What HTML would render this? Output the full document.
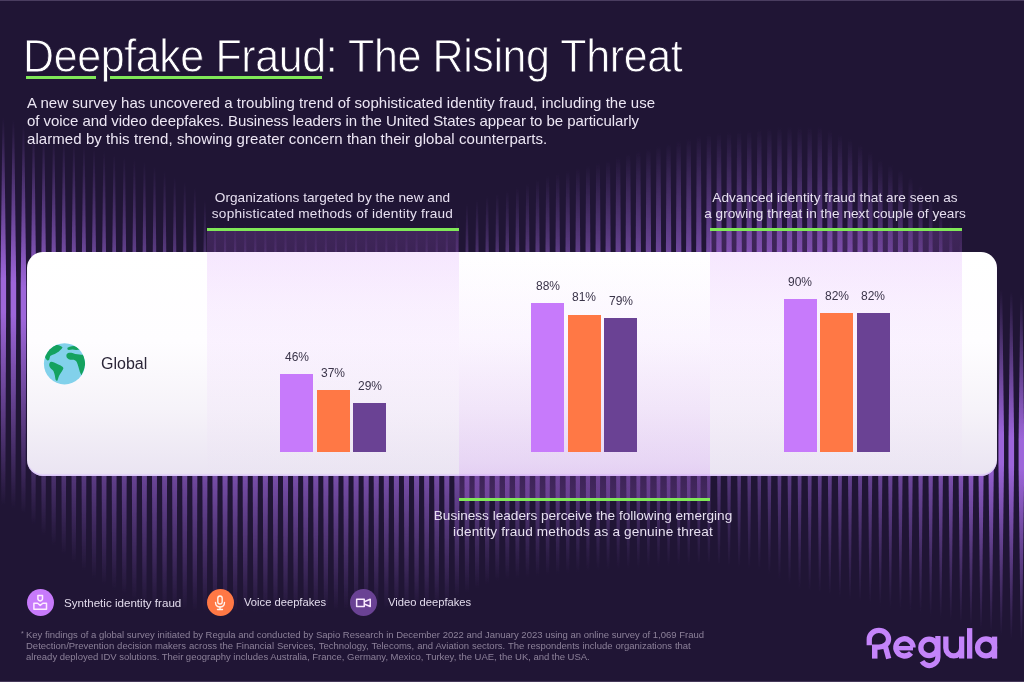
<!DOCTYPE html>
<html><head><meta charset="utf-8">
<style>
*{margin:0;padding:0;box-sizing:border-box}
html,body{width:1024px;height:682px;overflow:hidden;background:#201535}
body{position:relative;font-family:"Liberation Sans",sans-serif}
.sub,.hdr,.title,.leg,.foot,.pct,.global{will-change:transform}
.abs{position:absolute}
.stripes{position:absolute;left:0;top:0}
.topline{position:absolute;left:0;top:0;width:1024px;height:1px;background:#4a3d60}
.botline{position:absolute;left:0;top:681px;width:1024px;height:1px;background:#45385a}
.title{position:absolute;left:23px;top:36px;font-size:43px;color:#fff;white-space:nowrap;line-height:1;letter-spacing:-0.4px;-webkit-text-stroke:0.8px #201535;transform:scaleY(1.06);transform-origin:0 35.5px}
.uline{position:absolute;height:3px;background:#80e858}
.sub{position:absolute;left:27px;top:94px;font-size:15px;color:#ece6f4;line-height:17.8px;white-space:nowrap}
.hdr{position:absolute;font-size:13.6px;color:#e6dff0;line-height:16px;text-align:center;white-space:nowrap}
.card{position:absolute;left:27px;top:252px;width:970px;height:223.5px;border-radius:16px;
 background:linear-gradient(to bottom,#ffffff 0%,#fefdff 40%,#f6f3f9 70%,#eae4f2 100%);box-shadow:inset 0 -1.5px 1px rgba(205,170,255,0.55)}
.tint{position:absolute}
.tdown{background:linear-gradient(to bottom,rgba(200,110,250,0.19),rgba(200,110,250,0.10) 30%,rgba(200,110,250,0.0) 100%)}
.tup{background:linear-gradient(to top,rgba(200,110,250,0.22),rgba(200,110,250,0.14) 15%,rgba(200,110,250,0.0) 100%)}
.green{position:absolute;height:3px;background:#80e858}
.bar{position:absolute;width:33px}
.b1{background:#c77afb}.b2{background:#ff7845}.b3{background:#6a4294}
.pct{position:absolute;font-size:12px;color:#3a3449;width:40px;text-align:center;line-height:1}
.global{position:absolute;left:101px;top:356px;font-size:16px;color:#2b2638;line-height:1}
.leg{position:absolute;font-size:11.6px;color:#e2dbec;line-height:1;white-space:nowrap}
.dot{position:absolute;width:27px;height:27px;border-radius:50%}
.foot{position:absolute;left:26px;top:629px;font-size:9.5px;color:#8c8199;line-height:11.2px;white-space:nowrap}
</style></head><body>
<svg class="stripes" width="1024" height="682" viewBox="0 0 1024 682"><defs><filter id="bl" x="-5%" y="-5%" width="110%" height="110%"><feGaussianBlur stdDeviation="0.55 0"/></filter><linearGradient id="g0" gradientUnits="userSpaceOnUse" x1="0" y1="116.9" x2="0" y2="505.8"><stop offset="0" stop-color="#9d66da" stop-opacity="0"/><stop offset="0.420" stop-color="#9d66da"/><stop offset="0.500" stop-color="#9d66da"/><stop offset="1" stop-color="#9d66da" stop-opacity="0"/></linearGradient><linearGradient id="g1" gradientUnits="userSpaceOnUse" x1="0" y1="119.6" x2="0" y2="508.3"><stop offset="0" stop-color="#9d66da" stop-opacity="0"/><stop offset="0.420" stop-color="#9d66da"/><stop offset="0.500" stop-color="#9d66da"/><stop offset="1" stop-color="#9d66da" stop-opacity="0"/></linearGradient><linearGradient id="g2" gradientUnits="userSpaceOnUse" x1="0" y1="124.2" x2="0" y2="513.8"><stop offset="0" stop-color="#9d66da" stop-opacity="0"/><stop offset="0.420" stop-color="#9d66da"/><stop offset="0.500" stop-color="#9d66da"/><stop offset="1" stop-color="#9d66da" stop-opacity="0"/></linearGradient><linearGradient id="g3" gradientUnits="userSpaceOnUse" x1="0" y1="131.0" x2="0" y2="524.9"><stop offset="0" stop-color="#9d66da" stop-opacity="0"/><stop offset="0.420" stop-color="#9d66da"/><stop offset="0.500" stop-color="#9d66da"/><stop offset="1" stop-color="#9d66da" stop-opacity="0"/></linearGradient><linearGradient id="g4" gradientUnits="userSpaceOnUse" x1="0" y1="134.1" x2="0" y2="535.6"><stop offset="0" stop-color="#9d66da" stop-opacity="0"/><stop offset="0.420" stop-color="#9d66da"/><stop offset="0.500" stop-color="#9d66da"/><stop offset="1" stop-color="#9d66da" stop-opacity="0"/></linearGradient><linearGradient id="g5" gradientUnits="userSpaceOnUse" x1="0" y1="136.5" x2="0" y2="545.7"><stop offset="0" stop-color="#9d66da" stop-opacity="0"/><stop offset="0.420" stop-color="#9d66da"/><stop offset="0.500" stop-color="#9d66da"/><stop offset="1" stop-color="#9d66da" stop-opacity="0"/></linearGradient><linearGradient id="g6" gradientUnits="userSpaceOnUse" x1="0" y1="139.1" x2="0" y2="554.9"><stop offset="0" stop-color="#9d66da" stop-opacity="0"/><stop offset="0.420" stop-color="#9d66da"/><stop offset="0.500" stop-color="#9d66da"/><stop offset="1" stop-color="#9d66da" stop-opacity="0"/></linearGradient><linearGradient id="g7" gradientUnits="userSpaceOnUse" x1="0" y1="142.2" x2="0" y2="562.7"><stop offset="0" stop-color="#9d66da" stop-opacity="0"/><stop offset="0.420" stop-color="#9d66da"/><stop offset="0.500" stop-color="#9d66da"/><stop offset="1" stop-color="#9d66da" stop-opacity="0"/></linearGradient><linearGradient id="g8" gradientUnits="userSpaceOnUse" x1="0" y1="145.2" x2="0" y2="570.6"><stop offset="0" stop-color="#9d66da" stop-opacity="0"/><stop offset="0.420" stop-color="#9d66da"/><stop offset="0.500" stop-color="#9d66da"/><stop offset="1" stop-color="#9d66da" stop-opacity="0"/></linearGradient><linearGradient id="g9" gradientUnits="userSpaceOnUse" x1="0" y1="148.2" x2="0" y2="578.4"><stop offset="0" stop-color="#9d66da" stop-opacity="0"/><stop offset="0.420" stop-color="#9d66da"/><stop offset="0.500" stop-color="#9d66da"/><stop offset="1" stop-color="#9d66da" stop-opacity="0"/></linearGradient><linearGradient id="g10" gradientUnits="userSpaceOnUse" x1="0" y1="151.1" x2="0" y2="585.0"><stop offset="0" stop-color="#9d66da" stop-opacity="0"/><stop offset="0.420" stop-color="#9d66da"/><stop offset="0.500" stop-color="#9d66da"/><stop offset="1" stop-color="#9d66da" stop-opacity="0"/></linearGradient><linearGradient id="g11" gradientUnits="userSpaceOnUse" x1="0" y1="153.7" x2="0" y2="590.1"><stop offset="0" stop-color="#9d66da" stop-opacity="0"/><stop offset="0.420" stop-color="#9d66da"/><stop offset="0.500" stop-color="#9d66da"/><stop offset="1" stop-color="#9d66da" stop-opacity="0"/></linearGradient><linearGradient id="g12" gradientUnits="userSpaceOnUse" x1="0" y1="156.3" x2="0" y2="595.1"><stop offset="0" stop-color="#9d66da" stop-opacity="0"/><stop offset="0.420" stop-color="#9d66da"/><stop offset="0.500" stop-color="#9d66da"/><stop offset="1" stop-color="#9d66da" stop-opacity="0"/></linearGradient><linearGradient id="g13" gradientUnits="userSpaceOnUse" x1="0" y1="158.9" x2="0" y2="600.2"><stop offset="0" stop-color="#9d66da" stop-opacity="0"/><stop offset="0.420" stop-color="#9d66da"/><stop offset="0.500" stop-color="#9d66da"/><stop offset="1" stop-color="#9d66da" stop-opacity="0"/></linearGradient><linearGradient id="g14" gradientUnits="userSpaceOnUse" x1="0" y1="161.5" x2="0" y2="605.2"><stop offset="0" stop-color="#9d66da" stop-opacity="0"/><stop offset="0.420" stop-color="#9d66da"/><stop offset="0.500" stop-color="#9d66da"/><stop offset="1" stop-color="#9d66da" stop-opacity="0"/></linearGradient><linearGradient id="g15" gradientUnits="userSpaceOnUse" x1="0" y1="165.4" x2="0" y2="608.4"><stop offset="0" stop-color="#9d66da" stop-opacity="0"/><stop offset="0.420" stop-color="#9d66da"/><stop offset="0.500" stop-color="#9d66da"/><stop offset="1" stop-color="#9d66da" stop-opacity="0"/></linearGradient><linearGradient id="g16" gradientUnits="userSpaceOnUse" x1="0" y1="170.9" x2="0" y2="609.2"><stop offset="0" stop-color="#9d66da" stop-opacity="0"/><stop offset="0.420" stop-color="#9d66da"/><stop offset="0.500" stop-color="#9d66da"/><stop offset="1" stop-color="#9d66da" stop-opacity="0"/></linearGradient><linearGradient id="g17" gradientUnits="userSpaceOnUse" x1="0" y1="176.3" x2="0" y2="610.0"><stop offset="0" stop-color="#9d66da" stop-opacity="0"/><stop offset="0.420" stop-color="#9d66da"/><stop offset="0.500" stop-color="#9d66da"/><stop offset="1" stop-color="#9d66da" stop-opacity="0"/></linearGradient><linearGradient id="g18" gradientUnits="userSpaceOnUse" x1="0" y1="181.8" x2="0" y2="610.8"><stop offset="0" stop-color="#9d66da" stop-opacity="0"/><stop offset="0.420" stop-color="#9d66da"/><stop offset="0.500" stop-color="#9d66da"/><stop offset="1" stop-color="#9d66da" stop-opacity="0"/></linearGradient><linearGradient id="g19" gradientUnits="userSpaceOnUse" x1="0" y1="187.2" x2="0" y2="611.6"><stop offset="0" stop-color="#9d66da" stop-opacity="0"/><stop offset="0.420" stop-color="#9d66da"/><stop offset="0.500" stop-color="#9d66da"/><stop offset="1" stop-color="#9d66da" stop-opacity="0"/></linearGradient><linearGradient id="g20" gradientUnits="userSpaceOnUse" x1="0" y1="199.8" x2="0" y2="612.0"><stop offset="0" stop-color="#9d66da" stop-opacity="0"/><stop offset="0.420" stop-color="#9d66da"/><stop offset="0.500" stop-color="#9d66da"/><stop offset="1" stop-color="#9d66da" stop-opacity="0"/></linearGradient><linearGradient id="g21" gradientUnits="userSpaceOnUse" x1="0" y1="222.2" x2="0" y2="612.0"><stop offset="0" stop-color="#9d66da" stop-opacity="0"/><stop offset="0.420" stop-color="#9d66da"/><stop offset="0.500" stop-color="#9d66da"/><stop offset="1" stop-color="#9d66da" stop-opacity="0"/></linearGradient><linearGradient id="g22" gradientUnits="userSpaceOnUse" x1="0" y1="222.9" x2="0" y2="612.0"><stop offset="0" stop-color="#9d66da" stop-opacity="0"/><stop offset="0.420" stop-color="#9d66da"/><stop offset="0.500" stop-color="#9d66da"/><stop offset="1" stop-color="#9d66da" stop-opacity="0"/></linearGradient><linearGradient id="g23" gradientUnits="userSpaceOnUse" x1="0" y1="223.6" x2="0" y2="612.0"><stop offset="0" stop-color="#9d66da" stop-opacity="0"/><stop offset="0.420" stop-color="#9d66da"/><stop offset="0.500" stop-color="#9d66da"/><stop offset="1" stop-color="#9d66da" stop-opacity="0"/></linearGradient><linearGradient id="g24" gradientUnits="userSpaceOnUse" x1="0" y1="224.3" x2="0" y2="612.0"><stop offset="0" stop-color="#9d66da" stop-opacity="0"/><stop offset="0.420" stop-color="#9d66da"/><stop offset="0.500" stop-color="#9d66da"/><stop offset="1" stop-color="#9d66da" stop-opacity="0"/></linearGradient><linearGradient id="g25" gradientUnits="userSpaceOnUse" x1="0" y1="225.0" x2="0" y2="612.0"><stop offset="0" stop-color="#9d66da" stop-opacity="0"/><stop offset="0.420" stop-color="#9d66da"/><stop offset="0.500" stop-color="#9d66da"/><stop offset="1" stop-color="#9d66da" stop-opacity="0"/></linearGradient><linearGradient id="g26" gradientUnits="userSpaceOnUse" x1="0" y1="225.6" x2="0" y2="612.0"><stop offset="0" stop-color="#9d66da" stop-opacity="0"/><stop offset="0.420" stop-color="#9d66da"/><stop offset="0.500" stop-color="#9d66da"/><stop offset="1" stop-color="#9d66da" stop-opacity="0"/></linearGradient><linearGradient id="g27" gradientUnits="userSpaceOnUse" x1="0" y1="226.3" x2="0" y2="612.0"><stop offset="0" stop-color="#9d66da" stop-opacity="0"/><stop offset="0.420" stop-color="#9d66da"/><stop offset="0.500" stop-color="#9d66da"/><stop offset="1" stop-color="#9d66da" stop-opacity="0"/></linearGradient><linearGradient id="g28" gradientUnits="userSpaceOnUse" x1="0" y1="227.0" x2="0" y2="612.0"><stop offset="0" stop-color="#9d66da" stop-opacity="0"/><stop offset="0.420" stop-color="#9d66da"/><stop offset="0.500" stop-color="#9d66da"/><stop offset="1" stop-color="#9d66da" stop-opacity="0"/></linearGradient><linearGradient id="g29" gradientUnits="userSpaceOnUse" x1="0" y1="227.7" x2="0" y2="612.0"><stop offset="0" stop-color="#9d66da" stop-opacity="0"/><stop offset="0.420" stop-color="#9d66da"/><stop offset="0.500" stop-color="#9d66da"/><stop offset="1" stop-color="#9d66da" stop-opacity="0"/></linearGradient><linearGradient id="g30" gradientUnits="userSpaceOnUse" x1="0" y1="228.1" x2="0" y2="611.8"><stop offset="0" stop-color="#9d66da" stop-opacity="0"/><stop offset="0.420" stop-color="#9d66da"/><stop offset="0.500" stop-color="#9d66da"/><stop offset="1" stop-color="#9d66da" stop-opacity="0"/></linearGradient><linearGradient id="g31" gradientUnits="userSpaceOnUse" x1="0" y1="228.3" x2="0" y2="611.5"><stop offset="0" stop-color="#9d66da" stop-opacity="0"/><stop offset="0.420" stop-color="#9d66da"/><stop offset="0.500" stop-color="#9d66da"/><stop offset="1" stop-color="#9d66da" stop-opacity="0"/></linearGradient><linearGradient id="g32" gradientUnits="userSpaceOnUse" x1="0" y1="228.5" x2="0" y2="611.1"><stop offset="0" stop-color="#9d66da" stop-opacity="0"/><stop offset="0.420" stop-color="#9d66da"/><stop offset="0.500" stop-color="#9d66da"/><stop offset="1" stop-color="#9d66da" stop-opacity="0"/></linearGradient><linearGradient id="g33" gradientUnits="userSpaceOnUse" x1="0" y1="228.7" x2="0" y2="610.8"><stop offset="0" stop-color="#9d66da" stop-opacity="0"/><stop offset="0.420" stop-color="#9d66da"/><stop offset="0.500" stop-color="#9d66da"/><stop offset="1" stop-color="#9d66da" stop-opacity="0"/></linearGradient><linearGradient id="g34" gradientUnits="userSpaceOnUse" x1="0" y1="228.9" x2="0" y2="610.5"><stop offset="0" stop-color="#9d66da" stop-opacity="0"/><stop offset="0.420" stop-color="#9d66da"/><stop offset="0.500" stop-color="#9d66da"/><stop offset="1" stop-color="#9d66da" stop-opacity="0"/></linearGradient><linearGradient id="g35" gradientUnits="userSpaceOnUse" x1="0" y1="229.1" x2="0" y2="610.1"><stop offset="0" stop-color="#9d66da" stop-opacity="0"/><stop offset="0.420" stop-color="#9d66da"/><stop offset="0.500" stop-color="#9d66da"/><stop offset="1" stop-color="#9d66da" stop-opacity="0"/></linearGradient><linearGradient id="g36" gradientUnits="userSpaceOnUse" x1="0" y1="229.3" x2="0" y2="609.8"><stop offset="0" stop-color="#9d66da" stop-opacity="0"/><stop offset="0.420" stop-color="#9d66da"/><stop offset="0.500" stop-color="#9d66da"/><stop offset="1" stop-color="#9d66da" stop-opacity="0"/></linearGradient><linearGradient id="g37" gradientUnits="userSpaceOnUse" x1="0" y1="229.5" x2="0" y2="609.5"><stop offset="0" stop-color="#9d66da" stop-opacity="0"/><stop offset="0.420" stop-color="#9d66da"/><stop offset="0.500" stop-color="#9d66da"/><stop offset="1" stop-color="#9d66da" stop-opacity="0"/></linearGradient><linearGradient id="g38" gradientUnits="userSpaceOnUse" x1="0" y1="229.7" x2="0" y2="609.1"><stop offset="0" stop-color="#9d66da" stop-opacity="0"/><stop offset="0.420" stop-color="#9d66da"/><stop offset="0.500" stop-color="#9d66da"/><stop offset="1" stop-color="#9d66da" stop-opacity="0"/></linearGradient><linearGradient id="g39" gradientUnits="userSpaceOnUse" x1="0" y1="229.9" x2="0" y2="608.8"><stop offset="0" stop-color="#9d66da" stop-opacity="0"/><stop offset="0.420" stop-color="#9d66da"/><stop offset="0.500" stop-color="#9d66da"/><stop offset="1" stop-color="#9d66da" stop-opacity="0"/></linearGradient><linearGradient id="g40" gradientUnits="userSpaceOnUse" x1="0" y1="229.5" x2="0" y2="608.5"><stop offset="0" stop-color="#9d66da" stop-opacity="0"/><stop offset="0.420" stop-color="#9d66da"/><stop offset="0.500" stop-color="#9d66da"/><stop offset="1" stop-color="#9d66da" stop-opacity="0"/></linearGradient><linearGradient id="g41" gradientUnits="userSpaceOnUse" x1="0" y1="228.7" x2="0" y2="608.1"><stop offset="0" stop-color="#9d66da" stop-opacity="0"/><stop offset="0.420" stop-color="#9d66da"/><stop offset="0.500" stop-color="#9d66da"/><stop offset="1" stop-color="#9d66da" stop-opacity="0"/></linearGradient><linearGradient id="g42" gradientUnits="userSpaceOnUse" x1="0" y1="227.9" x2="0" y2="607.3"><stop offset="0" stop-color="#9d66da" stop-opacity="0"/><stop offset="0.420" stop-color="#9d66da"/><stop offset="0.500" stop-color="#9d66da"/><stop offset="1" stop-color="#9d66da" stop-opacity="0"/></linearGradient><linearGradient id="g43" gradientUnits="userSpaceOnUse" x1="0" y1="227.2" x2="0" y2="606.3"><stop offset="0" stop-color="#9d66da" stop-opacity="0"/><stop offset="0.420" stop-color="#9d66da"/><stop offset="0.500" stop-color="#9d66da"/><stop offset="1" stop-color="#9d66da" stop-opacity="0"/></linearGradient><linearGradient id="g44" gradientUnits="userSpaceOnUse" x1="0" y1="226.4" x2="0" y2="605.3"><stop offset="0" stop-color="#9d66da" stop-opacity="0"/><stop offset="0.420" stop-color="#9d66da"/><stop offset="0.500" stop-color="#9d66da"/><stop offset="1" stop-color="#9d66da" stop-opacity="0"/></linearGradient><linearGradient id="g45" gradientUnits="userSpaceOnUse" x1="0" y1="216.2" x2="0" y2="598.1"><stop offset="0" stop-color="#9d66da" stop-opacity="0"/><stop offset="0.420" stop-color="#9d66da"/><stop offset="0.500" stop-color="#9d66da"/><stop offset="1" stop-color="#9d66da" stop-opacity="0"/></linearGradient><linearGradient id="g46" gradientUnits="userSpaceOnUse" x1="0" y1="203.6" x2="0" y2="592.4"><stop offset="0" stop-color="#9d66da" stop-opacity="0"/><stop offset="0.420" stop-color="#9d66da"/><stop offset="0.500" stop-color="#9d66da"/><stop offset="1" stop-color="#9d66da" stop-opacity="0"/></linearGradient><linearGradient id="g47" gradientUnits="userSpaceOnUse" x1="0" y1="199.6" x2="0" y2="588.6"><stop offset="0" stop-color="#9d66da" stop-opacity="0"/><stop offset="0.420" stop-color="#9d66da"/><stop offset="0.500" stop-color="#9d66da"/><stop offset="1" stop-color="#9d66da" stop-opacity="0"/></linearGradient><linearGradient id="g48" gradientUnits="userSpaceOnUse" x1="0" y1="195.7" x2="0" y2="584.8"><stop offset="0" stop-color="#9d66da" stop-opacity="0"/><stop offset="0.420" stop-color="#9d66da"/><stop offset="0.500" stop-color="#9d66da"/><stop offset="1" stop-color="#9d66da" stop-opacity="0"/></linearGradient><linearGradient id="g49" gradientUnits="userSpaceOnUse" x1="0" y1="193.2" x2="0" y2="581.0"><stop offset="0" stop-color="#9d66da" stop-opacity="0"/><stop offset="0.420" stop-color="#9d66da"/><stop offset="0.500" stop-color="#9d66da"/><stop offset="1" stop-color="#9d66da" stop-opacity="0"/></linearGradient><linearGradient id="g50" gradientUnits="userSpaceOnUse" x1="0" y1="190.5" x2="0" y2="579.3"><stop offset="0" stop-color="#9d66da" stop-opacity="0"/><stop offset="0.420" stop-color="#9d66da"/><stop offset="0.500" stop-color="#9d66da"/><stop offset="1" stop-color="#9d66da" stop-opacity="0"/></linearGradient><linearGradient id="g51" gradientUnits="userSpaceOnUse" x1="0" y1="187.0" x2="0" y2="578.3"><stop offset="0" stop-color="#9d66da" stop-opacity="0"/><stop offset="0.420" stop-color="#9d66da"/><stop offset="0.500" stop-color="#9d66da"/><stop offset="1" stop-color="#9d66da" stop-opacity="0"/></linearGradient><linearGradient id="g52" gradientUnits="userSpaceOnUse" x1="0" y1="183.4" x2="0" y2="577.3"><stop offset="0" stop-color="#9d66da" stop-opacity="0"/><stop offset="0.420" stop-color="#9d66da"/><stop offset="0.500" stop-color="#9d66da"/><stop offset="1" stop-color="#9d66da" stop-opacity="0"/></linearGradient><linearGradient id="g53" gradientUnits="userSpaceOnUse" x1="0" y1="179.4" x2="0" y2="576.2"><stop offset="0" stop-color="#9d66da" stop-opacity="0"/><stop offset="0.420" stop-color="#9d66da"/><stop offset="0.500" stop-color="#9d66da"/><stop offset="1" stop-color="#9d66da" stop-opacity="0"/></linearGradient><linearGradient id="g54" gradientUnits="userSpaceOnUse" x1="0" y1="175.6" x2="0" y2="575.2"><stop offset="0" stop-color="#9d66da" stop-opacity="0"/><stop offset="0.420" stop-color="#9d66da"/><stop offset="0.500" stop-color="#9d66da"/><stop offset="1" stop-color="#9d66da" stop-opacity="0"/></linearGradient><linearGradient id="g55" gradientUnits="userSpaceOnUse" x1="0" y1="173.1" x2="0" y2="574.2"><stop offset="0" stop-color="#9d66da" stop-opacity="0"/><stop offset="0.420" stop-color="#9d66da"/><stop offset="0.500" stop-color="#9d66da"/><stop offset="1" stop-color="#9d66da" stop-opacity="0"/></linearGradient><linearGradient id="g56" gradientUnits="userSpaceOnUse" x1="0" y1="170.6" x2="0" y2="573.2"><stop offset="0" stop-color="#9d66da" stop-opacity="0"/><stop offset="0.420" stop-color="#9d66da"/><stop offset="0.500" stop-color="#9d66da"/><stop offset="1" stop-color="#9d66da" stop-opacity="0"/></linearGradient><linearGradient id="g57" gradientUnits="userSpaceOnUse" x1="0" y1="168.0" x2="0" y2="572.2"><stop offset="0" stop-color="#9d66da" stop-opacity="0"/><stop offset="0.420" stop-color="#9d66da"/><stop offset="0.500" stop-color="#9d66da"/><stop offset="1" stop-color="#9d66da" stop-opacity="0"/></linearGradient><linearGradient id="g58" gradientUnits="userSpaceOnUse" x1="0" y1="165.5" x2="0" y2="571.2"><stop offset="0" stop-color="#9d66da" stop-opacity="0"/><stop offset="0.420" stop-color="#9d66da"/><stop offset="0.500" stop-color="#9d66da"/><stop offset="1" stop-color="#9d66da" stop-opacity="0"/></linearGradient><linearGradient id="g59" gradientUnits="userSpaceOnUse" x1="0" y1="163.0" x2="0" y2="570.2"><stop offset="0" stop-color="#9d66da" stop-opacity="0"/><stop offset="0.420" stop-color="#9d66da"/><stop offset="0.500" stop-color="#9d66da"/><stop offset="1" stop-color="#9d66da" stop-opacity="0"/></linearGradient><linearGradient id="g60" gradientUnits="userSpaceOnUse" x1="0" y1="160.3" x2="0" y2="569.6"><stop offset="0" stop-color="#9d66da" stop-opacity="0"/><stop offset="0.420" stop-color="#9d66da"/><stop offset="0.500" stop-color="#9d66da"/><stop offset="1" stop-color="#9d66da" stop-opacity="0"/></linearGradient><linearGradient id="g61" gradientUnits="userSpaceOnUse" x1="0" y1="156.7" x2="0" y2="569.1"><stop offset="0" stop-color="#9d66da" stop-opacity="0"/><stop offset="0.420" stop-color="#9d66da"/><stop offset="0.500" stop-color="#9d66da"/><stop offset="1" stop-color="#9d66da" stop-opacity="0"/></linearGradient><linearGradient id="g62" gradientUnits="userSpaceOnUse" x1="0" y1="153.4" x2="0" y2="568.6"><stop offset="0" stop-color="#9d66da" stop-opacity="0"/><stop offset="0.420" stop-color="#9d66da"/><stop offset="0.500" stop-color="#9d66da"/><stop offset="1" stop-color="#9d66da" stop-opacity="0"/></linearGradient><linearGradient id="g63" gradientUnits="userSpaceOnUse" x1="0" y1="150.9" x2="0" y2="568.1"><stop offset="0" stop-color="#9d66da" stop-opacity="0"/><stop offset="0.420" stop-color="#9d66da"/><stop offset="0.500" stop-color="#9d66da"/><stop offset="1" stop-color="#9d66da" stop-opacity="0"/></linearGradient><linearGradient id="g64" gradientUnits="userSpaceOnUse" x1="0" y1="148.4" x2="0" y2="567.6"><stop offset="0" stop-color="#9d66da" stop-opacity="0"/><stop offset="0.420" stop-color="#9d66da"/><stop offset="0.500" stop-color="#9d66da"/><stop offset="1" stop-color="#9d66da" stop-opacity="0"/></linearGradient><linearGradient id="g65" gradientUnits="userSpaceOnUse" x1="0" y1="145.9" x2="0" y2="567.1"><stop offset="0" stop-color="#9d66da" stop-opacity="0"/><stop offset="0.420" stop-color="#9d66da"/><stop offset="0.500" stop-color="#9d66da"/><stop offset="1" stop-color="#9d66da" stop-opacity="0"/></linearGradient><linearGradient id="g66" gradientUnits="userSpaceOnUse" x1="0" y1="143.4" x2="0" y2="566.6"><stop offset="0" stop-color="#9d66da" stop-opacity="0"/><stop offset="0.420" stop-color="#9d66da"/><stop offset="0.500" stop-color="#9d66da"/><stop offset="1" stop-color="#9d66da" stop-opacity="0"/></linearGradient><linearGradient id="g67" gradientUnits="userSpaceOnUse" x1="0" y1="140.8" x2="0" y2="566.1"><stop offset="0" stop-color="#9d66da" stop-opacity="0"/><stop offset="0.420" stop-color="#9d66da"/><stop offset="0.500" stop-color="#9d66da"/><stop offset="1" stop-color="#9d66da" stop-opacity="0"/></linearGradient><linearGradient id="g68" gradientUnits="userSpaceOnUse" x1="0" y1="138.3" x2="0" y2="565.6"><stop offset="0" stop-color="#9d66da" stop-opacity="0"/><stop offset="0.420" stop-color="#9d66da"/><stop offset="0.500" stop-color="#9d66da"/><stop offset="1" stop-color="#9d66da" stop-opacity="0"/></linearGradient><linearGradient id="g69" gradientUnits="userSpaceOnUse" x1="0" y1="135.8" x2="0" y2="565.1"><stop offset="0" stop-color="#9d66da" stop-opacity="0"/><stop offset="0.420" stop-color="#9d66da"/><stop offset="0.500" stop-color="#9d66da"/><stop offset="1" stop-color="#9d66da" stop-opacity="0"/></linearGradient><linearGradient id="g70" gradientUnits="userSpaceOnUse" x1="0" y1="133.7" x2="0" y2="565.0"><stop offset="0" stop-color="#9d66da" stop-opacity="0"/><stop offset="0.420" stop-color="#9d66da"/><stop offset="0.500" stop-color="#9d66da"/><stop offset="1" stop-color="#9d66da" stop-opacity="0"/></linearGradient><linearGradient id="g71" gradientUnits="userSpaceOnUse" x1="0" y1="132.9" x2="0" y2="565.9"><stop offset="0" stop-color="#9d66da" stop-opacity="0"/><stop offset="0.420" stop-color="#9d66da"/><stop offset="0.500" stop-color="#9d66da"/><stop offset="1" stop-color="#9d66da" stop-opacity="0"/></linearGradient><linearGradient id="g72" gradientUnits="userSpaceOnUse" x1="0" y1="132.0" x2="0" y2="566.9"><stop offset="0" stop-color="#9d66da" stop-opacity="0"/><stop offset="0.420" stop-color="#9d66da"/><stop offset="0.500" stop-color="#9d66da"/><stop offset="1" stop-color="#9d66da" stop-opacity="0"/></linearGradient><linearGradient id="g73" gradientUnits="userSpaceOnUse" x1="0" y1="131.1" x2="0" y2="567.9"><stop offset="0" stop-color="#9d66da" stop-opacity="0"/><stop offset="0.420" stop-color="#9d66da"/><stop offset="0.500" stop-color="#9d66da"/><stop offset="1" stop-color="#9d66da" stop-opacity="0"/></linearGradient><linearGradient id="g74" gradientUnits="userSpaceOnUse" x1="0" y1="130.1" x2="0" y2="568.9"><stop offset="0" stop-color="#9d66da" stop-opacity="0"/><stop offset="0.420" stop-color="#9d66da"/><stop offset="0.500" stop-color="#9d66da"/><stop offset="1" stop-color="#9d66da" stop-opacity="0"/></linearGradient><linearGradient id="g75" gradientUnits="userSpaceOnUse" x1="0" y1="129.1" x2="0" y2="569.9"><stop offset="0" stop-color="#9d66da" stop-opacity="0"/><stop offset="0.420" stop-color="#9d66da"/><stop offset="0.500" stop-color="#9d66da"/><stop offset="1" stop-color="#9d66da" stop-opacity="0"/></linearGradient><linearGradient id="g76" gradientUnits="userSpaceOnUse" x1="0" y1="128.1" x2="0" y2="574.7"><stop offset="0" stop-color="#9d66da" stop-opacity="0"/><stop offset="0.420" stop-color="#9d66da"/><stop offset="0.500" stop-color="#9d66da"/><stop offset="1" stop-color="#9d66da" stop-opacity="0"/></linearGradient><linearGradient id="g77" gradientUnits="userSpaceOnUse" x1="0" y1="127.1" x2="0" y2="579.7"><stop offset="0" stop-color="#9d66da" stop-opacity="0"/><stop offset="0.420" stop-color="#9d66da"/><stop offset="0.500" stop-color="#9d66da"/><stop offset="1" stop-color="#9d66da" stop-opacity="0"/></linearGradient><linearGradient id="g78" gradientUnits="userSpaceOnUse" x1="0" y1="126.8" x2="0" y2="584.8"><stop offset="0" stop-color="#9d66da" stop-opacity="0"/><stop offset="0.420" stop-color="#9d66da"/><stop offset="0.500" stop-color="#9d66da"/><stop offset="1" stop-color="#9d66da" stop-opacity="0"/></linearGradient><linearGradient id="g79" gradientUnits="userSpaceOnUse" x1="0" y1="126.5" x2="0" y2="589.8"><stop offset="0" stop-color="#9d66da" stop-opacity="0"/><stop offset="0.420" stop-color="#9d66da"/><stop offset="0.500" stop-color="#9d66da"/><stop offset="1" stop-color="#9d66da" stop-opacity="0"/></linearGradient><linearGradient id="g80" gradientUnits="userSpaceOnUse" x1="0" y1="126.3" x2="0" y2="591.9"><stop offset="0" stop-color="#9d66da" stop-opacity="0"/><stop offset="0.420" stop-color="#9d66da"/><stop offset="0.500" stop-color="#9d66da"/><stop offset="1" stop-color="#9d66da" stop-opacity="0"/></linearGradient><linearGradient id="g81" gradientUnits="userSpaceOnUse" x1="0" y1="126.0" x2="0" y2="594.0"><stop offset="0" stop-color="#9d66da" stop-opacity="0"/><stop offset="0.420" stop-color="#9d66da"/><stop offset="0.500" stop-color="#9d66da"/><stop offset="1" stop-color="#9d66da" stop-opacity="0"/></linearGradient><linearGradient id="g82" gradientUnits="userSpaceOnUse" x1="0" y1="129.9" x2="0" y2="596.0"><stop offset="0" stop-color="#9d66da" stop-opacity="0"/><stop offset="0.420" stop-color="#9d66da"/><stop offset="0.500" stop-color="#9d66da"/><stop offset="1" stop-color="#9d66da" stop-opacity="0"/></linearGradient><linearGradient id="g83" gradientUnits="userSpaceOnUse" x1="0" y1="134.0" x2="0" y2="598.0"><stop offset="0" stop-color="#9d66da" stop-opacity="0"/><stop offset="0.420" stop-color="#9d66da"/><stop offset="0.500" stop-color="#9d66da"/><stop offset="1" stop-color="#9d66da" stop-opacity="0"/></linearGradient><linearGradient id="g84" gradientUnits="userSpaceOnUse" x1="0" y1="139.0" x2="0" y2="600.0"><stop offset="0" stop-color="#9d66da" stop-opacity="0"/><stop offset="0.420" stop-color="#9d66da"/><stop offset="0.500" stop-color="#9d66da"/><stop offset="1" stop-color="#9d66da" stop-opacity="0"/></linearGradient><linearGradient id="g85" gradientUnits="userSpaceOnUse" x1="0" y1="144.1" x2="0" y2="602.0"><stop offset="0" stop-color="#9d66da" stop-opacity="0"/><stop offset="0.420" stop-color="#9d66da"/><stop offset="0.500" stop-color="#9d66da"/><stop offset="1" stop-color="#9d66da" stop-opacity="0"/></linearGradient><linearGradient id="g86" gradientUnits="userSpaceOnUse" x1="0" y1="151.6" x2="0" y2="604.0"><stop offset="0" stop-color="#9d66da" stop-opacity="0"/><stop offset="0.420" stop-color="#9d66da"/><stop offset="0.500" stop-color="#9d66da"/><stop offset="1" stop-color="#9d66da" stop-opacity="0"/></linearGradient><linearGradient id="g87" gradientUnits="userSpaceOnUse" x1="0" y1="159.1" x2="0" y2="606.1"><stop offset="0" stop-color="#9d66da" stop-opacity="0"/><stop offset="0.420" stop-color="#9d66da"/><stop offset="0.500" stop-color="#9d66da"/><stop offset="1" stop-color="#9d66da" stop-opacity="0"/></linearGradient><linearGradient id="g88" gradientUnits="userSpaceOnUse" x1="0" y1="164.2" x2="0" y2="608.1"><stop offset="0" stop-color="#9d66da" stop-opacity="0"/><stop offset="0.420" stop-color="#9d66da"/><stop offset="0.500" stop-color="#9d66da"/><stop offset="1" stop-color="#9d66da" stop-opacity="0"/></linearGradient><linearGradient id="g89" gradientUnits="userSpaceOnUse" x1="0" y1="169.3" x2="0" y2="610.1"><stop offset="0" stop-color="#9d66da" stop-opacity="0"/><stop offset="0.420" stop-color="#9d66da"/><stop offset="0.500" stop-color="#9d66da"/><stop offset="1" stop-color="#9d66da" stop-opacity="0"/></linearGradient><linearGradient id="g90" gradientUnits="userSpaceOnUse" x1="0" y1="176.9" x2="0" y2="612.1"><stop offset="0" stop-color="#9d66da" stop-opacity="0"/><stop offset="0.420" stop-color="#9d66da"/><stop offset="0.500" stop-color="#9d66da"/><stop offset="1" stop-color="#9d66da" stop-opacity="0"/></linearGradient><linearGradient id="g91" gradientUnits="userSpaceOnUse" x1="0" y1="184.6" x2="0" y2="614.1"><stop offset="0" stop-color="#9d66da" stop-opacity="0"/><stop offset="0.420" stop-color="#9d66da"/><stop offset="0.500" stop-color="#9d66da"/><stop offset="1" stop-color="#9d66da" stop-opacity="0"/></linearGradient><linearGradient id="g92" gradientUnits="userSpaceOnUse" x1="0" y1="194.7" x2="0" y2="616.1"><stop offset="0" stop-color="#9d66da" stop-opacity="0"/><stop offset="0.420" stop-color="#9d66da"/><stop offset="0.500" stop-color="#9d66da"/><stop offset="1" stop-color="#9d66da" stop-opacity="0"/></linearGradient><linearGradient id="g93" gradientUnits="userSpaceOnUse" x1="0" y1="205.1" x2="0" y2="618.1"><stop offset="0" stop-color="#9d66da" stop-opacity="0"/><stop offset="0.420" stop-color="#9d66da"/><stop offset="0.500" stop-color="#9d66da"/><stop offset="1" stop-color="#9d66da" stop-opacity="0"/></linearGradient><linearGradient id="g94" gradientUnits="userSpaceOnUse" x1="0" y1="220.2" x2="0" y2="620.2"><stop offset="0" stop-color="#9d66da" stop-opacity="0"/><stop offset="0.420" stop-color="#9d66da"/><stop offset="0.500" stop-color="#9d66da"/><stop offset="1" stop-color="#9d66da" stop-opacity="0"/></linearGradient><linearGradient id="g95" gradientUnits="userSpaceOnUse" x1="0" y1="235.8" x2="0" y2="623.3"><stop offset="0" stop-color="#9d66da" stop-opacity="0"/><stop offset="0.420" stop-color="#9d66da"/><stop offset="0.500" stop-color="#9d66da"/><stop offset="1" stop-color="#9d66da" stop-opacity="0"/></linearGradient><linearGradient id="g96" gradientUnits="userSpaceOnUse" x1="0" y1="256.0" x2="0" y2="626.3"><stop offset="0" stop-color="#9d66da" stop-opacity="0"/><stop offset="0.420" stop-color="#9d66da"/><stop offset="0.500" stop-color="#9d66da"/><stop offset="1" stop-color="#9d66da" stop-opacity="0"/></linearGradient><linearGradient id="g97" gradientUnits="userSpaceOnUse" x1="0" y1="274.8" x2="0" y2="629.3"><stop offset="0" stop-color="#9d66da" stop-opacity="0"/><stop offset="0.420" stop-color="#9d66da"/><stop offset="0.500" stop-color="#9d66da"/><stop offset="1" stop-color="#9d66da" stop-opacity="0"/></linearGradient><linearGradient id="g98" gradientUnits="userSpaceOnUse" x1="0" y1="282.4" x2="0" y2="632.3"><stop offset="0" stop-color="#9d66da" stop-opacity="0"/><stop offset="0.420" stop-color="#9d66da"/><stop offset="0.500" stop-color="#9d66da"/><stop offset="1" stop-color="#9d66da" stop-opacity="0"/></linearGradient><linearGradient id="g99" gradientUnits="userSpaceOnUse" x1="0" y1="289.3" x2="0" y2="635.5"><stop offset="0" stop-color="#9d66da" stop-opacity="0"/><stop offset="0.420" stop-color="#9d66da"/><stop offset="0.500" stop-color="#9d66da"/><stop offset="1" stop-color="#9d66da" stop-opacity="0"/></linearGradient><linearGradient id="g100" gradientUnits="userSpaceOnUse" x1="0" y1="291.4" x2="0" y2="639.7"><stop offset="0" stop-color="#9d66da" stop-opacity="0"/><stop offset="0.420" stop-color="#9d66da"/><stop offset="0.500" stop-color="#9d66da"/><stop offset="1" stop-color="#9d66da" stop-opacity="0"/></linearGradient><linearGradient id="g101" gradientUnits="userSpaceOnUse" x1="0" y1="293.5" x2="0" y2="643.9"><stop offset="0" stop-color="#9d66da" stop-opacity="0"/><stop offset="0.420" stop-color="#9d66da"/><stop offset="0.500" stop-color="#9d66da"/><stop offset="1" stop-color="#9d66da" stop-opacity="0"/></linearGradient></defs><g filter="url(#bl)"><path d="M2.50 116.9L4.10 116.9L6.10 280.2L6.10 311.4L5.30 505.8L1.30 505.8L0.50 311.4L0.50 280.2Z" fill="url(#g0)"/><path d="M12.58 119.6L14.18 119.6L16.18 282.9L16.18 314.0L15.38 508.3L11.38 508.3L10.58 314.0L10.58 282.9Z" fill="url(#g1)"/><path d="M22.66 124.2L24.26 124.2L26.26 287.9L26.26 319.0L25.46 513.8L21.46 513.8L20.66 319.0L20.66 287.9Z" fill="url(#g2)"/><path d="M32.74 131.0L34.34 131.0L36.34 296.4L36.34 327.9L35.54 524.9L31.54 524.9L30.74 327.9L30.74 296.4Z" fill="url(#g3)"/><path d="M42.82 134.1L44.42 134.1L46.42 302.7L46.42 334.8L45.62 535.6L41.62 535.6L40.82 334.8L40.82 302.7Z" fill="url(#g4)"/><path d="M52.90 136.5L54.50 136.5L56.50 308.4L56.50 341.1L55.70 545.7L51.70 545.7L50.90 341.1L50.90 308.4Z" fill="url(#g5)"/><path d="M62.98 139.1L64.58 139.1L66.58 313.8L66.58 347.0L65.78 554.9L61.78 554.9L60.98 347.0L60.98 313.8Z" fill="url(#g6)"/><path d="M73.06 142.2L74.66 142.2L76.66 318.8L76.66 352.4L75.86 562.7L71.86 562.7L71.06 352.4L71.06 318.8Z" fill="url(#g7)"/><path d="M83.14 145.2L84.74 145.2L86.74 323.8L86.74 357.9L85.94 570.6L81.94 570.6L81.14 357.9L81.14 323.8Z" fill="url(#g8)"/><path d="M93.22 148.2L94.82 148.2L96.82 328.9L96.82 363.3L96.02 578.4L92.02 578.4L91.22 363.3L91.22 328.9Z" fill="url(#g9)"/><path d="M103.30 151.1L104.90 151.1L106.90 333.3L106.90 368.1L106.10 585.0L102.10 585.0L101.30 368.1L101.30 333.3Z" fill="url(#g10)"/><path d="M113.38 153.7L114.98 153.7L116.98 337.0L116.98 371.9L116.18 590.1L112.18 590.1L111.38 371.9L111.38 337.0Z" fill="url(#g11)"/><path d="M123.46 156.3L125.06 156.3L127.06 340.6L127.06 375.7L126.26 595.1L122.26 595.1L121.46 375.7L121.46 340.6Z" fill="url(#g12)"/><path d="M133.54 158.9L135.14 158.9L137.14 344.2L137.14 379.5L136.34 600.2L132.34 600.2L131.54 379.5L131.54 344.2Z" fill="url(#g13)"/><path d="M143.62 161.5L145.22 161.5L147.22 347.9L147.22 383.4L146.42 605.2L142.42 605.2L141.62 383.4L141.62 347.9Z" fill="url(#g14)"/><path d="M153.70 165.4L155.30 165.4L157.30 351.5L157.30 386.9L156.50 608.4L152.50 608.4L151.70 386.9L151.70 351.5Z" fill="url(#g15)"/><path d="M163.78 170.9L165.38 170.9L167.38 355.0L167.38 390.0L166.58 609.2L162.58 609.2L161.78 390.0L161.78 355.0Z" fill="url(#g16)"/><path d="M173.86 176.3L175.46 176.3L177.46 358.5L177.46 393.1L176.66 610.0L172.66 610.0L171.86 393.1L171.86 358.5Z" fill="url(#g17)"/><path d="M183.94 181.8L185.54 181.8L187.54 361.9L187.54 396.3L186.74 610.8L182.74 610.8L181.94 396.3L181.94 361.9Z" fill="url(#g18)"/><path d="M194.02 187.2L195.62 187.2L197.62 365.4L197.62 399.4L196.82 611.6L192.82 611.6L192.02 399.4L192.02 365.4Z" fill="url(#g19)"/><path d="M204.10 199.8L205.70 199.8L207.70 372.9L207.70 405.9L206.90 612.0L202.90 612.0L202.10 405.9L202.10 372.9Z" fill="url(#g20)"/><path d="M214.18 222.2L215.78 222.2L217.78 385.9L217.78 417.1L216.98 612.0L212.98 612.0L212.18 417.1L212.18 385.9Z" fill="url(#g21)"/><path d="M224.26 222.9L225.86 222.9L227.86 386.3L227.86 417.4L227.06 612.0L223.06 612.0L222.26 417.4L222.26 386.3Z" fill="url(#g22)"/><path d="M234.34 223.6L235.94 223.6L237.94 386.7L237.94 417.8L237.14 612.0L233.14 612.0L232.34 417.8L232.34 386.7Z" fill="url(#g23)"/><path d="M244.42 224.3L246.02 224.3L248.02 387.1L248.02 418.1L247.22 612.0L243.22 612.0L242.42 418.1L242.42 387.1Z" fill="url(#g24)"/><path d="M254.50 225.0L256.10 225.0L258.10 387.5L258.10 418.5L257.30 612.0L253.30 612.0L252.50 418.5L252.50 387.5Z" fill="url(#g25)"/><path d="M264.58 225.6L266.18 225.6L268.18 387.9L268.18 418.8L267.38 612.0L263.38 612.0L262.58 418.8L262.58 387.9Z" fill="url(#g26)"/><path d="M274.66 226.3L276.26 226.3L278.26 388.3L278.26 419.2L277.46 612.0L273.46 612.0L272.66 419.2L272.66 388.3Z" fill="url(#g27)"/><path d="M284.74 227.0L286.34 227.0L288.34 388.7L288.34 419.5L287.54 612.0L283.54 612.0L282.74 419.5L282.74 388.7Z" fill="url(#g28)"/><path d="M294.82 227.7L296.42 227.7L298.42 389.1L298.42 419.9L297.62 612.0L293.62 612.0L292.82 419.9L292.82 389.1Z" fill="url(#g29)"/><path d="M304.90 228.1L306.50 228.1L308.50 389.3L308.50 420.0L307.70 611.8L303.70 611.8L302.90 420.0L302.90 389.3Z" fill="url(#g30)"/><path d="M314.98 228.3L316.58 228.3L318.58 389.2L318.58 419.9L317.78 611.5L313.78 611.5L312.98 419.9L312.98 389.2Z" fill="url(#g31)"/><path d="M325.06 228.5L326.66 228.5L328.66 389.2L328.66 419.8L327.86 611.1L323.86 611.1L323.06 419.8L323.06 389.2Z" fill="url(#g32)"/><path d="M335.14 228.7L336.74 228.7L338.74 389.2L338.74 419.8L337.94 610.8L333.94 610.8L333.14 419.8L333.14 389.2Z" fill="url(#g33)"/><path d="M345.22 228.9L346.82 228.9L348.82 389.2L348.82 419.7L348.02 610.5L344.02 610.5L343.22 419.7L343.22 389.2Z" fill="url(#g34)"/><path d="M355.30 229.1L356.90 229.1L358.90 389.1L358.90 419.6L358.10 610.1L354.10 610.1L353.30 419.6L353.30 389.1Z" fill="url(#g35)"/><path d="M365.38 229.3L366.98 229.3L368.98 389.1L368.98 419.6L368.18 609.8L364.18 609.8L363.38 419.6L363.38 389.1Z" fill="url(#g36)"/><path d="M375.46 229.5L377.06 229.5L379.06 389.1L379.06 419.5L378.26 609.5L374.26 609.5L373.46 419.5L373.46 389.1Z" fill="url(#g37)"/><path d="M385.54 229.7L387.14 229.7L389.14 389.1L389.14 419.4L388.34 609.1L384.34 609.1L383.54 419.4L383.54 389.1Z" fill="url(#g38)"/><path d="M395.62 229.9L397.22 229.9L399.22 389.0L399.22 419.4L398.42 608.8L394.42 608.8L393.62 419.4L393.62 389.0Z" fill="url(#g39)"/><path d="M405.70 229.5L407.30 229.5L409.30 388.7L409.30 419.0L408.50 608.5L404.50 608.5L403.70 419.0L403.70 388.7Z" fill="url(#g40)"/><path d="M415.78 228.7L417.38 228.7L419.38 388.1L419.38 418.4L418.58 608.1L414.58 608.1L413.78 418.4L413.78 388.1Z" fill="url(#g41)"/><path d="M425.86 227.9L427.46 227.9L429.46 387.3L429.46 417.6L428.66 607.3L424.66 607.3L423.86 417.6L423.86 387.3Z" fill="url(#g42)"/><path d="M435.94 227.2L437.54 227.2L439.54 386.4L439.54 416.7L438.74 606.3L434.74 606.3L433.94 416.7L433.94 386.4Z" fill="url(#g43)"/><path d="M446.02 226.4L447.62 226.4L449.62 385.5L449.62 415.9L448.82 605.3L444.82 605.3L444.02 415.9L444.02 385.5Z" fill="url(#g44)"/><path d="M456.10 216.2L457.70 216.2L459.70 376.6L459.70 407.1L458.90 598.1L454.90 598.1L454.10 407.1L454.10 376.6Z" fill="url(#g45)"/><path d="M466.12 203.6L467.84 203.6L469.79 366.9L469.79 398.0L468.98 592.4L464.98 592.4L464.17 398.0L464.17 366.9Z" fill="url(#g46)"/><path d="M476.12 199.6L478.00 199.6L479.88 363.0L479.88 394.1L479.02 588.6L475.10 588.6L474.24 394.1L474.24 363.0Z" fill="url(#g47)"/><path d="M486.12 195.7L488.16 195.7L489.97 359.1L489.97 390.3L489.05 584.8L485.23 584.8L484.31 390.3L484.31 359.1Z" fill="url(#g48)"/><path d="M496.12 193.2L498.32 193.2L500.07 356.1L500.07 387.1L499.08 581.0L495.36 581.0L494.37 387.1L494.37 356.1Z" fill="url(#g49)"/><path d="M506.12 190.5L508.48 190.5L510.16 353.8L510.16 384.9L509.11 579.3L505.49 579.3L504.44 384.9L504.44 353.8Z" fill="url(#g50)"/><path d="M516.11 187.0L518.65 187.0L520.25 351.3L520.25 382.6L519.14 578.3L515.62 578.3L514.51 382.6L514.51 351.3Z" fill="url(#g51)"/><path d="M526.11 183.4L528.81 183.4L530.34 348.8L530.34 380.3L529.17 577.3L525.75 577.3L524.58 380.3L524.58 348.8Z" fill="url(#g52)"/><path d="M536.11 179.4L538.97 179.4L540.44 346.1L540.44 377.8L539.20 576.2L535.88 576.2L534.64 377.8L534.64 346.1Z" fill="url(#g53)"/><path d="M546.11 175.6L549.13 175.6L550.53 343.4L550.53 375.4L549.23 575.2L546.01 575.2L544.71 375.4L544.71 343.4Z" fill="url(#g54)"/><path d="M556.11 173.1L559.29 173.1L560.62 341.6L560.62 373.7L559.26 574.2L556.14 574.2L554.78 373.7L554.78 341.6Z" fill="url(#g55)"/><path d="M566.10 170.6L569.46 170.6L570.71 339.7L570.71 371.9L569.29 573.2L566.27 573.2L564.85 371.9L564.85 339.7Z" fill="url(#g56)"/><path d="M576.10 168.0L579.62 168.0L580.81 337.8L580.81 370.1L579.32 572.2L576.40 572.2L574.91 370.1L574.91 337.8Z" fill="url(#g57)"/><path d="M586.10 165.5L589.78 165.5L590.90 335.9L590.90 368.4L589.35 571.2L586.53 571.2L584.98 368.4L584.98 335.9Z" fill="url(#g58)"/><path d="M596.10 163.0L599.94 163.0L600.99 334.0L600.99 366.6L599.38 570.2L596.66 570.2L595.05 366.6L595.05 334.0Z" fill="url(#g59)"/><path d="M606.10 160.3L610.10 160.3L611.09 332.2L611.09 364.9L609.41 569.6L606.79 569.6L605.11 364.9L605.11 332.2Z" fill="url(#g60)"/><path d="M616.09 156.7L620.27 156.7L621.18 329.9L621.18 362.9L619.44 569.1L616.92 569.1L615.18 362.9L615.18 329.9Z" fill="url(#g61)"/><path d="M626.16 153.4L630.36 153.4L631.26 327.8L631.26 361.0L629.47 568.6L627.05 568.6L625.26 361.0L625.26 327.8Z" fill="url(#g62)"/><path d="M636.24 150.9L640.44 150.9L641.34 326.1L641.34 359.5L639.50 568.1L637.18 568.1L635.34 359.5L635.34 326.1Z" fill="url(#g63)"/><path d="M646.32 148.4L650.52 148.4L651.42 324.5L651.42 358.0L649.53 567.6L647.31 567.6L645.42 358.0L645.42 324.5Z" fill="url(#g64)"/><path d="M656.40 145.9L660.60 145.9L661.50 322.8L661.50 356.5L659.59 567.1L657.41 567.1L655.50 356.5L655.50 322.8Z" fill="url(#g65)"/><path d="M666.48 143.4L670.68 143.4L671.58 321.1L671.58 355.0L669.65 566.6L667.51 566.6L665.58 355.0L665.58 321.1Z" fill="url(#g66)"/><path d="M676.56 140.8L680.76 140.8L681.66 319.4L681.66 353.5L679.72 566.1L677.60 566.1L675.66 353.5L675.66 319.4Z" fill="url(#g67)"/><path d="M686.64 138.3L690.84 138.3L691.74 317.8L691.74 351.9L689.78 565.6L687.70 565.6L685.74 351.9L685.74 317.8Z" fill="url(#g68)"/><path d="M696.72 135.8L700.92 135.8L701.82 316.1L701.82 350.4L699.85 565.1L697.79 565.1L695.82 350.4L695.82 316.1Z" fill="url(#g69)"/><path d="M706.80 133.7L711.00 133.7L711.90 314.9L711.90 349.4L709.91 565.0L707.89 565.0L705.90 349.4L705.90 314.9Z" fill="url(#g70)"/><path d="M716.88 132.9L721.08 132.9L721.98 314.7L721.98 349.4L719.98 565.9L717.98 565.9L715.98 349.4L715.98 314.7Z" fill="url(#g71)"/><path d="M726.96 132.0L731.16 132.0L732.06 314.6L732.06 349.4L730.04 566.9L728.08 566.9L726.06 349.4L726.06 314.6Z" fill="url(#g72)"/><path d="M737.04 131.1L741.24 131.1L742.14 314.5L742.14 349.5L740.11 567.9L738.17 567.9L736.14 349.5L736.14 314.5Z" fill="url(#g73)"/><path d="M747.12 130.1L751.32 130.1L752.22 314.4L752.22 349.5L750.17 568.9L748.27 568.9L746.22 349.5L746.22 314.4Z" fill="url(#g74)"/><path d="M757.20 129.1L761.40 129.1L762.30 314.2L762.30 349.5L760.24 569.9L758.36 569.9L756.30 349.5L756.30 314.2Z" fill="url(#g75)"/><path d="M767.28 128.1L771.48 128.1L772.38 315.6L772.38 351.4L770.30 574.7L768.46 574.7L766.38 351.4L766.38 315.6Z" fill="url(#g76)"/><path d="M777.36 127.1L781.56 127.1L782.46 317.2L782.46 353.4L780.37 579.7L778.55 579.7L776.46 353.4L776.46 317.2Z" fill="url(#g77)"/><path d="M787.44 126.8L791.64 126.8L792.54 319.1L792.54 355.8L790.43 584.8L788.65 584.8L786.54 355.8L786.54 319.1Z" fill="url(#g78)"/><path d="M797.52 126.5L801.72 126.5L802.62 321.1L802.62 358.2L800.50 589.8L798.74 589.8L796.62 358.2L796.62 321.1Z" fill="url(#g79)"/><path d="M807.60 126.3L811.80 126.3L812.70 321.8L812.70 359.1L810.56 591.9L808.84 591.9L806.70 359.1L806.70 321.8Z" fill="url(#g80)"/><path d="M817.68 126.0L821.88 126.0L822.78 322.5L822.78 360.0L820.63 594.0L818.93 594.0L816.78 360.0L816.78 322.5Z" fill="url(#g81)"/><path d="M827.76 129.9L831.96 129.9L832.86 325.7L832.86 363.0L830.69 596.0L829.03 596.0L826.86 363.0L826.86 325.7Z" fill="url(#g82)"/><path d="M837.84 134.0L842.04 134.0L842.94 328.9L842.94 366.0L840.76 598.0L839.12 598.0L836.94 366.0L836.94 328.9Z" fill="url(#g83)"/><path d="M847.92 139.0L852.12 139.0L853.02 332.6L853.02 369.5L850.82 600.0L849.22 600.0L847.02 369.5L847.02 332.6Z" fill="url(#g84)"/><path d="M858.00 144.1L862.20 144.1L863.10 336.4L863.10 373.0L860.89 602.0L859.31 602.0L857.10 373.0L857.10 336.4Z" fill="url(#g85)"/><path d="M868.08 151.6L872.28 151.6L873.18 341.6L873.18 377.8L870.97 604.0L869.39 604.0L867.18 377.8L867.18 341.6Z" fill="url(#g86)"/><path d="M878.16 159.1L882.36 159.1L883.26 346.8L883.26 382.6L881.04 606.1L879.48 606.1L877.26 382.6L877.26 346.8Z" fill="url(#g87)"/><path d="M888.24 164.2L892.44 164.2L893.34 350.6L893.34 386.1L891.12 608.1L889.56 608.1L887.34 386.1L887.34 350.6Z" fill="url(#g88)"/><path d="M898.33 169.3L902.51 169.3L903.42 354.4L903.42 389.7L901.19 610.1L899.65 610.1L897.42 389.7L897.42 354.4Z" fill="url(#g89)"/><path d="M908.59 176.9L912.41 176.9L913.47 359.7L913.47 394.5L911.27 612.1L909.73 612.1L907.53 394.5L907.53 359.7Z" fill="url(#g90)"/><path d="M918.86 184.6L922.30 184.6L923.51 365.0L923.51 399.3L921.34 614.1L919.82 614.1L917.65 399.3L917.65 365.0Z" fill="url(#g91)"/><path d="M929.12 194.7L932.20 194.7L933.56 371.7L933.56 405.4L931.41 616.1L929.91 616.1L927.76 405.4L927.76 371.7Z" fill="url(#g92)"/><path d="M939.39 205.1L942.09 205.1L943.60 378.6L943.60 411.6L941.49 618.1L939.99 618.1L937.88 411.6L937.88 378.6Z" fill="url(#g93)"/><path d="M949.65 220.2L951.99 220.2L953.65 388.2L953.65 420.2L951.56 620.2L950.08 620.2L947.99 420.2L947.99 388.2Z" fill="url(#g94)"/><path d="M959.90 235.8L961.90 235.8L963.70 398.5L963.70 429.5L961.64 623.3L960.16 623.3L958.10 429.5L958.10 398.5Z" fill="url(#g95)"/><path d="M969.98 256.0L971.98 256.0L973.78 411.5L973.78 441.1L971.71 626.3L970.25 626.3L968.18 441.1L968.18 411.5Z" fill="url(#g96)"/><path d="M980.06 274.8L982.06 274.8L983.86 423.7L983.86 452.1L981.78 629.3L980.34 629.3L978.26 452.1L978.26 423.7Z" fill="url(#g97)"/><path d="M990.14 282.4L992.14 282.4L993.94 429.3L993.94 457.3L991.86 632.3L990.42 632.3L988.34 457.3L988.34 429.3Z" fill="url(#g98)"/><path d="M1000.22 289.3L1002.22 289.3L1004.02 434.7L1004.02 462.4L1001.93 635.5L1000.51 635.5L998.42 462.4L998.42 434.7Z" fill="url(#g99)"/><path d="M1010.30 291.4L1012.30 291.4L1014.10 437.7L1014.10 465.5L1012.01 639.7L1010.59 639.7L1008.50 465.5L1008.50 437.7Z" fill="url(#g100)"/><path d="M1020.38 293.5L1022.38 293.5L1024.18 440.6L1024.18 468.7L1022.08 643.9L1020.68 643.9L1018.58 468.7L1018.58 440.6Z" fill="url(#g101)"/></g></svg>
<div class="topline"></div>
<div class="botline"></div>

<div class="title">Deepfake Fraud: The Rising Threat</div>
<div class="uline" style="left:26px;top:75.5px;width:70px"></div>
<div class="uline" style="left:110px;top:75.5px;width:212px"></div>

<div class="sub"><span style="letter-spacing:0.047px">A new survey has uncovered a troubling trend of sophisticated identity fraud, including the use</span><br><span style="letter-spacing:-0.054px">of voice and video deepfakes. Business leaders in the United States appear to be particularly</span><br><span style="letter-spacing:0.065px">alarmed by this trend, showing greater concern than their global counterparts.</span></div>

<div class="hdr" style="left:186px;width:293px;top:190px"><span style="letter-spacing:0.05px">Organizations targeted by the new and</span><br><span style="letter-spacing:0.24px">sophisticated methods of identity fraud</span></div>
<div class="hdr" style="left:689px;width:292px;top:190px"><span style="letter-spacing:0.05px">Advanced identity fraud that are seen as</span><br><span style="letter-spacing:0.04px">a growing threat in the next couple of years</span></div>
<div class="hdr" style="left:407px;width:352px;top:508px">Business leaders perceive the following emerging<br><span style="letter-spacing:0.14px">identity fraud methods as a genuine threat</span></div>

<div class="card"></div>
<div class="tint tdown" style="left:206.5px;top:231px;width:252.5px;height:244px"></div>
<div class="tint tup" style="left:459px;top:252px;width:251px;height:247px"></div>
<div class="tint tdown" style="left:710px;top:231px;width:252px;height:244px"></div>
<div class="green" style="left:206.5px;top:228px;width:252.5px"></div>
<div class="green" style="left:459px;top:498px;width:251px"></div>
<div class="green" style="left:710px;top:228px;width:252px"></div>

<!-- globe -->
<svg class="abs" style="left:43px;top:343px" width="44" height="44" viewBox="0 0 44 44">
 <defs><clipPath id="gc"><circle cx="21.5" cy="20.8" r="20.6"/></clipPath></defs>
 <circle cx="21.5" cy="20.8" r="20.6" fill="#82d1eb"/>
 <g clip-path="url(#gc)" fill="#14a25f">
 <path d="M1.5 13.5 C2.5 10.5 4 8.5 7.6 4.7 C10 2.8 12 1.9 13.2 1.9 C15.5 1.9 17.5 2.4 19.5 4.2 C19 5.6 18 6.3 17.4 6.9 C16.2 8 15.5 8.8 14.6 9.3 C13.5 10 12.6 10.7 11.8 11.1 C10.8 11.6 9.9 11.8 9 12.1 C7.8 12.7 7.2 13.2 6.9 13.9 C6.5 15 6.6 16 6.2 16.7 C5.6 17.4 4.8 17.6 4.2 17.2 C3.4 16.5 2.8 15.8 1.5 13.5Z"/>
 <path d="M6.5 20.2 C7 19.3 7.6 18.8 8.3 18.8 C9.4 18.8 10.2 19.1 11.1 19.5 C12.6 20.2 14 21 15.3 21.6 C17 22.4 18.6 23 19.5 23.8 C20.3 24.6 20.5 25.3 20.2 25.9 C19.7 27.2 18.8 28.3 18.1 29.4 C17.3 30.6 16.6 31.7 16 32.9 C15.3 34.5 15 36.5 14.3 37.8 C13.6 37.9 12.9 37.4 12.5 36.4 C12.1 35 12.1 33.5 11.8 32.2 C11.4 30.6 11 29.2 10.4 28 C9.6 26.8 8.4 26.2 7.6 25.2 C6.9 24.3 6.4 23.4 6.2 22.4 C6.1 21.6 6.2 20.8 6.5 20.2Z"/>
 <path d="M24.5 4.7 C25.2 4.2 25.8 3.9 26.6 3.7 C28 3.2 29.4 3 30.8 3 C32.5 3.3 34 3.9 35 4.7 C35.7 5.3 36.2 5.9 36.4 6.5 C35.2 6.9 34 7 32.9 6.9 C31.7 6.8 30.5 6.5 29.4 6.5 C28.2 6.5 27 6.9 25.9 6.9 C25.1 6.9 24.6 6.6 24.5 6.2 C24.4 5.6 24.3 5.1 24.5 4.7Z"/>
 <path d="M23.8 11.1 C24.4 10.3 25.1 9.8 25.9 9.7 C27.1 9.6 28.3 9.6 29.4 10 C30.4 10.4 31.2 10.9 32.2 11.1 C33.6 11.4 35 11.3 36.4 11.4 C37.8 11.5 39 11.6 40 11.8 C41 13.3 41.5 15 41.7 16.7 C42.1 18.3 42.2 20 42.1 21.6 C41.9 23.6 41.4 25.5 40.7 27.3 C40 29 39.3 30.7 38.5 32.2 C37.8 31.2 37.3 30 36.8 28.7 C36.3 27.1 35.9 25.4 35.4 23.8 C34.9 22 34.4 20.3 33.6 18.8 C32.8 17.8 31.9 17.1 30.8 16.7 C29.7 16.5 28.5 16.8 27.3 16.7 C26.2 16.5 25.2 16 24.5 15.3 C23.9 14.7 23.5 14 23.4 13.2 C23.3 12.4 23.4 11.7 23.8 11.1Z"/>
 </g>
</svg>
<div class="global">Global</div>

<!-- bars col1 -->
<div class="bar b1" style="left:280px;top:374px;height:78px"></div>
<div class="bar b2" style="left:316.5px;top:390px;height:62px"></div>
<div class="bar b3" style="left:353px;top:403px;height:49px"></div>
<div class="pct" style="left:276.5px;top:350.9px">46%</div>
<div class="pct" style="left:313px;top:366.6px">37%</div>
<div class="pct" style="left:349.5px;top:380px">29%</div>
<!-- bars col2 -->
<div class="bar b1" style="left:531px;top:303px;height:149px"></div>
<div class="bar b2" style="left:567.5px;top:314.5px;height:137.5px"></div>
<div class="bar b3" style="left:604px;top:318px;height:134px"></div>
<div class="pct" style="left:527.5px;top:279.5px">88%</div>
<div class="pct" style="left:564px;top:291px">81%</div>
<div class="pct" style="left:600.5px;top:294.5px">79%</div>
<!-- bars col3 -->
<div class="bar b1" style="left:783.5px;top:299px;height:153px"></div>
<div class="bar b2" style="left:820px;top:313px;height:139px"></div>
<div class="bar b3" style="left:856.5px;top:313px;height:139px"></div>
<div class="pct" style="left:780px;top:275.5px">90%</div>
<div class="pct" style="left:816.5px;top:289.5px">82%</div>
<div class="pct" style="left:853px;top:289.5px">82%</div>

<!-- legend -->
<div class="dot" style="left:26.5px;top:589px;background:#c77afb"></div>
<svg class="abs" style="left:31px;top:593px" width="18" height="18" viewBox="0 0 18 18" fill="none" stroke="#fdeaff" stroke-width="1.5" stroke-linejoin="round">
 <path d="M6.9 2.6 H11.5 V5.4 Q11.5 7.4 9.2 7.9 Q6.9 7.4 6.9 5.4 Z"/>
 <path d="M2.9 10.2 H6.6 L9.2 12.4 L11.8 10.2 H15.5 V16.2 H2.9 Z"/>
</svg>
<div class="leg" style="left:64px;top:597px">Synthetic identity fraud</div>
<div class="dot" style="left:206.5px;top:589px;background:#ff7845"></div>
<svg class="abs" style="left:211px;top:593.5px" width="18" height="18" viewBox="0 0 18 18" fill="none" stroke="#fff3ec" stroke-width="1.4" stroke-linecap="round">
 <rect x="6.8" y="2" width="4.4" height="8" rx="2.2"/>
 <path d="M4.5 8.5 C4.5 11.5 6.5 13 9 13 C11.5 13 13.5 11.5 13.5 8.5"/>
 <path d="M9 13 V15.5 M6.5 15.5 H11.5"/>
</svg>
<div class="leg" style="left:244px;top:597.3px;font-size:11.2px">Voice deepfakes</div>
<div class="dot" style="left:349.5px;top:589px;background:#6a4294"></div>
<svg class="abs" style="left:354px;top:593.5px" width="18" height="18" viewBox="0 0 18 18" fill="none" stroke="#fbeaff" stroke-width="1.5" stroke-linejoin="round">
 <rect x="2.65" y="5.25" width="7.6" height="7.2"/>
 <path d="M10.25 7.7 L16.25 5.25 V12.45 L10.25 10"/>
</svg>
<div class="leg" style="left:388px;top:597.3px;font-size:11.2px">Video deepfakes</div>

<div class="foot"><span style="position:absolute;left:-5px;top:-1px;font-size:7px">*</span>Key findings of a global survey initiated by Regula and conducted by Sapio Research in December 2022 and January 2023 using an online survey of 1,069 Fraud<br><span style="word-spacing:0.28px">Detection/Prevention decision makers across the Financial Services, Technology, Telecoms, and Aviation sectors. The respondents include organizations that</span><br><span style="word-spacing:-0.1px">already deployed IDV solutions. Their geography includes Australia, France, Germany, Mexico, Turkey, the UAE, the UK, and the USA.</span></div>

<!-- logo -->
<svg class="abs" style="left:860px;top:620px" width="145" height="55" viewBox="860 620 145 55">
 <g fill="none" stroke="#c484fa" stroke-width="5.3">
 <path d="M869.25 645.3 V639.2 A9.65 8.75 0 0 1 888.55 639.2 A9.65 7.9 0 0 1 878.9 647.1 H872"/>
 <path d="M885.4 646.5 L888.7 658.6"/>
 <path d="M913.05 647.4 A8.6 8.6 0 1 0 911.04 652.93"/>
 <path d="M896 648.2 H913" stroke-width="4.4"/>
 <circle cx="929.1" cy="647.4" r="8.25"/>
 <path d="M937.9 636.1 V657 A8.5 8.5 0 0 1 922.04 661.25"/>
 <path d="M945.85 636.6 V648 A7.9 7.9 0 0 0 961.65 648 M961.65 636.6 V658.6"/>
 <path d="M969.65 628.1 V658.6"/>
 <circle cx="986.05" cy="647.45" r="8.5"/>
 <path d="M994.55 636.6 V658.6"/>
 </g>
 <rect x="872" y="645" width="5.5" height="13.6" fill="#c484fa"/>
</svg>
</body></html>
